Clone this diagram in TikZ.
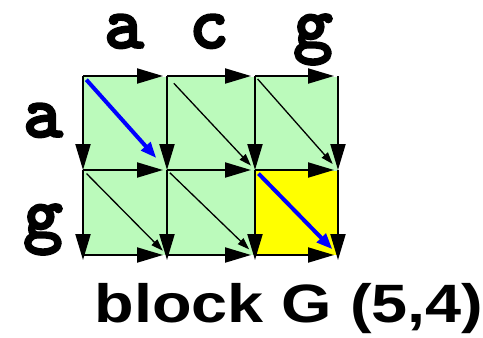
\documentclass[tikz,border=0pt]{standalone}
\usepackage{fontspec}
\setmainfont{Liberation Sans}
\newfontfamily\monofont{lmmonolt10-bold.otf}[FakeBold=2.5]
\usetikzlibrary{arrows.meta}
\definecolor{cellgreen}{RGB}{187,250,187}
\definecolor{cellyellow}{RGB}{255,255,0}
\definecolor{pathblue}{RGB}{0,0,255}
\begin{document}
\begin{tikzpicture}[x=1pt,y=-1pt,
  edgearrow/.style={line width=2pt, -{Triangle[length=26pt,width=15pt]}},
  hedge/.style={edgearrow, shorten >=4pt},
  diagarrow/.style={line width=1.3pt, -{Triangle[length=12pt,width=8pt]}},
  patharrow/.style={line width=4pt, draw=pathblue, -{Triangle[length=16pt,width=12pt]}},
  seqlabel/.style={font=\monofont\fontsize{76}{76}\selectfont, anchor=base, inner sep=0pt, text height=34pt, text depth=14pt},
  titlelabel/.style={font=\bfseries\fontsize{54}{54}\selectfont, anchor=base, inner sep=0pt},
]
\useasboundingbox (0,0) rectangle (483,338);
% corners
\foreach \r/\yy in {0/76,1/170,2/255}{
  \foreach \c/\xx in {0/83,1/167,2/255,3/338}{
    \coordinate (c\r\c) at (\xx,\yy);
  }
}
% fills
\fill[cellgreen] (83,77) rectangle (338,255);
\fill[cellyellow] (255,171) rectangle (338,255);
% labels
\node[seqlabel] (ta) at (124,48) {a};
\node[seqlabel] (tc) at (209,48) {c};
\node[seqlabel] (tg) at (313,48) {g};
\node[seqlabel] (la) at (43,137) {a};
\node[seqlabel] (lg) at (43,238) {g};
\node[titlelabel] (title) at (289,322) {\scalebox{1.2}[1]{block G (5,4)}};
% horizontal arrows
\foreach \r in {0,1,2}{
  \draw[hedge] (c\r0) -- (c\r1);
  \draw[hedge] (c\r1) -- (c\r2);
  \draw[hedge] (c\r2) -- (c\r3);
}
% vertical arrows
\foreach \c in {0,1,2,3}{
  \draw[edgearrow] (c0\c) -- (c1\c);
  \draw[edgearrow, shorten >=-5pt] (c1\c) -- (c2\c);
}
% diagonals
\draw[diagarrow, shorten <=10pt, shorten >=6pt] (c01) -- (c12);
\draw[diagarrow, shorten <=4pt, shorten >=8pt] (c02) -- (c13);
\draw[diagarrow, shorten <=5pt, shorten >=6pt] (c10) -- (c21);
\draw[diagarrow, shorten <=4pt, shorten >=8pt] (c11) -- (c22);
% blue path
\draw[patharrow, shorten <=5pt, shorten >=16pt] (c00) -- (c11);
\draw[patharrow, shorten <=5pt, shorten >=8pt] (c12) -- (c23);
\end{tikzpicture}
\end{document}
